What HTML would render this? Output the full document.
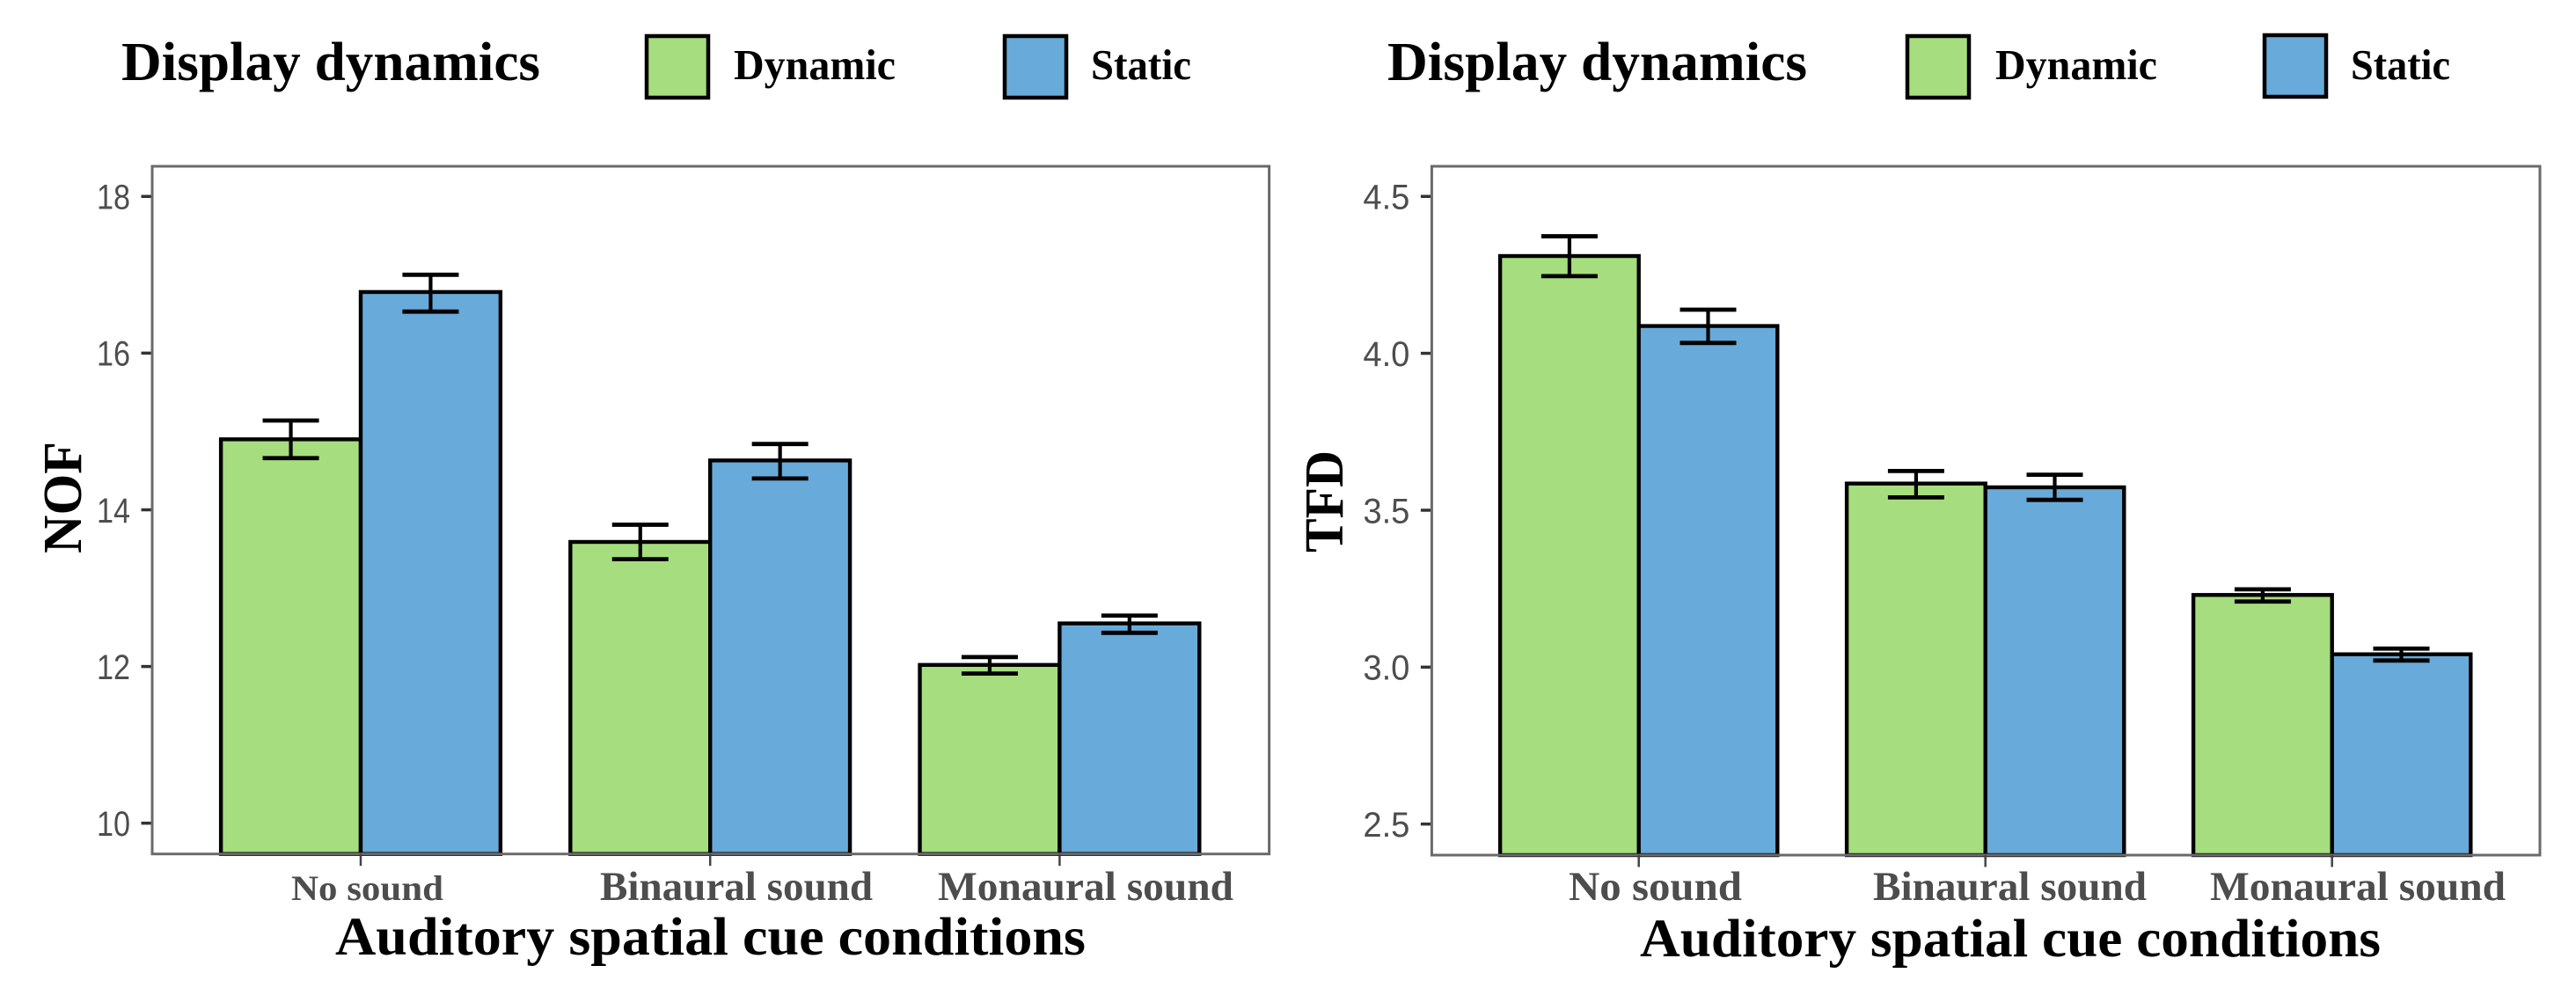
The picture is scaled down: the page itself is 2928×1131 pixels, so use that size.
<!DOCTYPE html>
<html lang="en">
<head>
<meta charset="utf-8">
<title>Display dynamics by auditory spatial cue conditions</title>
<style>
html,body{margin:0;padding:0;background:#fff;}
body{width:2928px;height:1131px;overflow:hidden;}
svg{display:block;}
.serif{font-family:"Liberation Serif",serif;font-weight:bold;fill:#000;}
.sans{font-family:"Liberation Sans",sans-serif;fill:#4d4d4d;}
</style>
</head>
<body>
<svg id="figure" xmlns="http://www.w3.org/2000/svg" width="2928" height="1131" viewBox="0 0 2928 1131">
  <rect width="2928" height="1131" fill="#ffffff"/>

  <g>
    <text class="serif" x="138" y="91" font-size="62" textLength="476" lengthAdjust="spacingAndGlyphs">Display dynamics</text>
    <rect x="735" y="41" width="70" height="70" fill="#a6dd7e" stroke="#000" stroke-width="4.5"/>
    <text class="serif" x="834" y="90" font-size="49" textLength="184" lengthAdjust="spacingAndGlyphs">Dynamic</text>
    <rect x="1142" y="41" width="70" height="70" fill="#68aad9" stroke="#000" stroke-width="4.5"/>
    <text class="serif" x="1240" y="90" font-size="49" textLength="114" lengthAdjust="spacingAndGlyphs">Static</text>
  </g>

  <g>
    <text class="serif" x="1577" y="91" font-size="62" textLength="477" lengthAdjust="spacingAndGlyphs">Display dynamics</text>
    <rect x="2168" y="41" width="70" height="70" fill="#a6dd7e" stroke="#000" stroke-width="4.5"/>
    <text class="serif" x="2268" y="90" font-size="49" textLength="184" lengthAdjust="spacingAndGlyphs">Dynamic</text>
    <rect x="2574" y="40" width="70" height="70" fill="#68aad9" stroke="#000" stroke-width="4.5"/>
    <text class="serif" x="2672" y="90" font-size="49" textLength="113" lengthAdjust="spacingAndGlyphs">Static</text>
  </g>

  <g id="panel-nof"></g>
  <g id="panel-tfd"></g>
</svg>

<script>
// ---- chart data ----
const categories = ["No sound", "Binaural sound", "Monaural sound"];

const nofTicks = [10, 12, 14, 16, 18];
const nofDynamic = [14.90, 13.59, 12.02];
const nofDynamicUpper = [15.14, 13.81, 12.12];
const nofDynamicLower = [14.66, 13.37, 11.91];
const nofStatic = [16.78, 14.63, 12.55];
const nofStaticUpper = [17.00, 14.84, 12.65];
const nofStaticLower = [16.53, 14.40, 12.43];

const tfdTicks = [2.5, 3.0, 3.5, 4.0, 4.5];
const tfdDynamic = [4.31, 3.585, 3.23];
const tfdDynamicUpper = [4.373, 3.625, 3.248];
const tfdDynamicLower = [4.246, 3.541, 3.209];
const tfdStatic = [4.087, 3.573, 3.041];
const tfdStaticUpper = [4.139, 3.613, 3.059];
const tfdStaticLower = [4.033, 3.533, 3.021];

const SVG_NS = "http://www.w3.org/2000/svg";
const GREEN = "#a6dd7e";
const BLUE = "#68aad9";

function make(tag, attrs, parent, text) {
  const el = document.createElementNS(SVG_NS, tag);
  for (const k in attrs) el.setAttribute(k, attrs[k]);
  if (text !== undefined) el.textContent = text;
  parent.appendChild(el);
  return el;
}

function drawPanel(root, cfg) {
  const yScale = v => cfg.bottom - (v - cfg.domainMin) / (cfg.domainMax - cfg.domainMin) * (cfg.bottom - cfg.top);
  const xCenter = i => cfg.firstCenter + i * cfg.step;
  const barW = cfg.step * 0.4;

  // y ticks + labels
  cfg.ticks.forEach(t => {
    const y = yScale(t);
    const tick = make("line", {x1: cfg.left - 12.5, x2: cfg.left, y1: y, y2: y, stroke: "#333", "stroke-width": 3.5}, root);
    
    
    const lab = make("text", {x: cfg.left - 25, y: y + 14.3, "text-anchor": "end", "font-size": 40, textLength: cfg.tickLabelLen, lengthAdjust: "spacingAndGlyphs", class: "sans"}, root, cfg.tickFormat(t));
    
    
  });

  // bars
  const series = [
    {key: "dynamic", fill: GREEN, vals: cfg.dynamic, up: cfg.dynamicUpper, lo: cfg.dynamicLower, off: -0.5},
    {key: "static", fill: BLUE, vals: cfg.stat, up: cfg.staticUpper, lo: cfg.staticLower, off: 0.5}
  ];
  series.forEach(s => {
    s.vals.forEach((v, i) => {
      const cx = xCenter(i) + s.off * barW;
      const bar = make("rect", {x: cx - barW / 2, y: yScale(v), width: barW, height: cfg.bottom - yScale(v), fill: s.fill, stroke: "#000", "stroke-width": 4.4}, root);
      
      
    });
  });

  // error bars drawn after all bars
  series.forEach(s => {
    s.vals.forEach((v, i) => {
      const cx = xCenter(i) + s.off * barW;
      const yU = yScale(s.up[i]), yL = yScale(s.lo[i]);
      const g = make("g", {stroke: "#000", fill: "none"}, root);
      
      
      make("line", {x1: cx, x2: cx, y1: yU, y2: yL, "stroke-width": 4.2}, g);
      make("line", {x1: cx - 32, x2: cx + 32, y1: yU, y2: yU, "stroke-width": 4.8}, g);
      make("line", {x1: cx - 32, x2: cx + 32, y1: yL, y2: yL, "stroke-width": 4.8}, g);
    });
  });

  // frame
  const frame = make("rect", {x: cfg.left, y: cfg.top, width: cfg.right - cfg.left, height: cfg.bottom - cfg.top, fill: "none", stroke: "#6a6a6a", "stroke-width": 3}, root);
  
  

  // x ticks + labels
  categories.forEach((c, i) => {
    const cx = xCenter(i);
    const tick = make("line", {x1: cx, x2: cx, y1: cfg.bottom, y2: cfg.bottom + 13.5, stroke: "#444", "stroke-width": 2.5}, root);
    
    
    const f = cfg.catLabelLayout[i];
    const lab = make("text", {x: f.x, y: 1023, "font-size": f.size, textLength: f.len, lengthAdjust: "spacingAndGlyphs", class: "serif", style: "fill:#4d4d4d"}, root, c);
    
    
  });

  // axis titles
  const xt = make("text", {x: cfg.xTitle.x, y: cfg.xTitle.y, "font-size": 61, textLength: cfg.xTitle.len, lengthAdjust: "spacingAndGlyphs", class: "serif"}, root, "Auditory spatial cue conditions");
  
  
  const yt = make("text", {transform: "translate(" + cfg.yTitle.x + "," + cfg.yTitle.y + ") rotate(-90)", "font-size": 62, textLength: cfg.yTitle.len, lengthAdjust: "spacingAndGlyphs", class: "serif"}, root, cfg.yTitle.text);
  
  
}

drawPanel(document.getElementById("panel-nof"), {
  left: 173, right: 1442.6, top: 189, bottom: 970.7,
  firstCenter: 410, step: 397.2,
  domainMin: 9.607, domainMax: 18.385,
  ticks: nofTicks, tickFormat: t => String(t), tickLabelLen: 38,
  dynamic: nofDynamic, dynamicUpper: nofDynamicUpper, dynamicLower: nofDynamicLower,
  stat: nofStatic, staticUpper: nofStaticUpper, staticLower: nofStaticLower,
  catLabelLayout: [{x: 331, len: 173, size: 40}, {x: 682, len: 310, size: 47}, {x: 1066, len: 336, size: 47}],
  xTitle: {x: 381, y: 1085, len: 853},
  yTitle: {x: 92, y: 629, len: 127, text: "NOF"}
});

drawPanel(document.getElementById("panel-tfd"), {
  left: 1627.4, right: 2887, top: 189, bottom: 972,
  firstCenter: 1862.7, step: 394,
  domainMin: 2.401, domainMax: 4.596,
  ticks: tfdTicks, tickFormat: t => t.toFixed(1), tickLabelLen: 53,
  dynamic: tfdDynamic, dynamicUpper: tfdDynamicUpper, dynamicLower: tfdDynamicLower,
  stat: tfdStatic, staticUpper: tfdStaticUpper, staticLower: tfdStaticLower,
  catLabelLayout: [{x: 1783, len: 197, size: 47}, {x: 2129, len: 311, size: 47}, {x: 2512, len: 336, size: 47}],
  xTitle: {x: 1864, y: 1087, len: 842},
  yTitle: {x: 1526, y: 628, len: 116, text: "TFD"}
});
</script>
</body>
</html>
